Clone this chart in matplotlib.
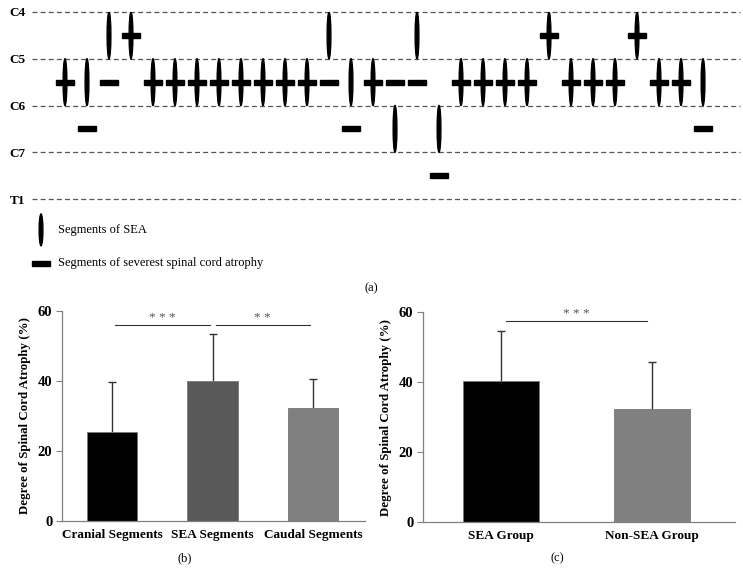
import matplotlib
matplotlib.use("Agg")
import matplotlib.pyplot as plt
from matplotlib.patches import Ellipse, Rectangle
import numpy as np

plt.rcParams['font.family'] = ['Liberation Serif', 'DejaVu Serif']

# ---------------- data ----------------
level_labels = ["C4", "C5", "C6", "C7", "T1"]
# level index of the interspace: 0=C4-C5, 1=C5-C6, 2=C6-C7, 3=C7-T1
sea_level = [1, 1, 0, 0, 1, 1, 1, 1, 1, 1, 1, 1, 0, 1, 1,
             2, 0, 2, 1, 1, 1, 1, 0, 1, 1, 1, 0, 1, 1, 1]
atrophy_level = [1, 2, 1, 0, 1, 1, 1, 1, 1, 1, 1, 1, 1, 2, 1,
                 1, 1, 3, 1, 1, 1, 1, 0, 1, 1, 1, 0, 1, 1, 2]

b_categories = ["Cranial Segments", "SEA Segments", "Caudal Segments"]
b_means = [25.3, 40.0, 32.4]
b_sd = [14.5, 13.4, 8.2]
b_colors = ["#000000", "#595959", "#808080"]
b_sig = [(0, 1, "* * *", 56.0), (1, 2, "* *", 56.0)]

c_categories = ["SEA Group", "Non-SEA Group"]
c_means = [40.2, 32.2]
c_sd = [14.5, 13.4]
c_colors = ["#000000", "#808080"]
c_sig = [(0, 1, "* * *", 57.4)]

W, H = 743, 585
fig = plt.figure(figsize=(W / 100, H / 100), dpi=100)


def frac_rect(x0, y0, x1, y1):
    return [x0 / W, 1 - y1 / H, (x1 - x0) / W, (y1 - y0) / H]


# ---------------- panel (a) ----------------
axa = fig.add_axes(frac_rect(32, 12, 740, 199))
n = len(sea_level)
axa.set_xlim(-1.5, 30.68)
axa.set_ylim(4, 0)
for k in range(len(level_labels)):
    axa.axhline(k, color="#555555", lw=0.9, ls=(0, (4, 2.5)), zorder=1,
                clip_on=False)
xs = np.arange(n)
ell_w = 0.17
bar_w, bar_h = 0.8, 0.105
for x, s, a in zip(xs, sea_level, atrophy_level):
    axa.add_patch(Ellipse((x, s + 0.5), ell_w, 1.0, color="black", zorder=3))
    axa.add_patch(Rectangle((x - bar_w / 2, a + 0.5 - bar_h / 2), bar_w, bar_h,
                            color="black", zorder=3))
axa.set_yticks(range(len(level_labels)))
axa.set_yticklabels(level_labels, fontweight="bold", fontsize=9.5)
axa.tick_params(axis="y", length=0, pad=5)
axa.set_xticks([])
for sp in axa.spines.values():
    sp.set_visible(False)

# legend
axa.add_patch(Ellipse((-1.09, 4.66), ell_w, 0.68, color="black", clip_on=False))
axa.text(-0.32, 4.66, "Segments of SEA", fontsize=9, va="center", ha="left")
axa.add_patch(Rectangle((-1.09 - bar_w / 2, 5.37 - bar_h / 2), bar_w, bar_h,
                        color="black", clip_on=False))
axa.text(-0.32, 5.37, "Segments of severest spinal cord atrophy", fontsize=9,
         va="center", ha="left")
fig.text(371 / W, 1 - 288 / H, "(a)", fontsize=9, ha="center", va="center")


# ---------------- bar panels ----------------
def bar_panel(ax, cats, means, sds, colors, sigs, xlim):
    x = np.arange(len(cats))
    ax.errorbar(x, means, yerr=sds, fmt="none", ecolor="#333333", elinewidth=1,
                capsize=3, capthick=1, zorder=1)
    ax.bar(x, means, width=0.5, color=colors, edgecolor="#777777", linewidth=0.6,
           zorder=2)
    for i, j, s, yv in sigs:
        ax.plot([x[i] + 0.03, x[j] - 0.03], [yv, yv], color="#333333", lw=0.8,
                zorder=3)
        ax.text((x[i] + x[j]) / 2, yv + 0.3, s, ha="center", va="bottom",
                fontsize=9.5, color="#555555")
    ax.set_xlim(*xlim)
    ax.set_ylim(0, 60)
    ax.set_yticks([0, 20, 40, 60])
    ax.set_yticklabels(["0", "20", "40", "60"], fontweight="bold", fontsize=10.5)
    ax.set_xticks(x)
    ax.set_xticklabels(cats, fontweight="bold", fontsize=9.5)
    ax.tick_params(axis="x", length=0, pad=6)
    ax.tick_params(axis="y", length=4, color="#808080", width=0.8, pad=3)
    for sp in ["top", "right"]:
        ax.spines[sp].set_visible(False)
    for sp in ["left", "bottom"]:
        ax.spines[sp].set_color("#808080")
        ax.spines[sp].set_linewidth(0.9)
    ax.set_ylabel("Degree of Spinal Cord Atrophy (%)", fontweight="bold",
                  fontsize=9.3, labelpad=5)


axb = fig.add_axes(frac_rect(62, 311, 365, 521))
bar_panel(axb, b_categories, b_means, b_sd, b_colors, b_sig, (-0.4975, 2.517))
fig.text(185 / W, 1 - 558 / H, "(b)", fontsize=9, ha="center", va="center")

axc = fig.add_axes(frac_rect(423, 312, 735, 522))
bar_panel(axc, c_categories, c_means, c_sd, c_colors, c_sig, (-0.517, 1.55))
fig.text(557 / W, 1 - 558 / H, "(c)", fontsize=9, ha="center", va="center")

fig.savefig("out.png", dpi=100)
